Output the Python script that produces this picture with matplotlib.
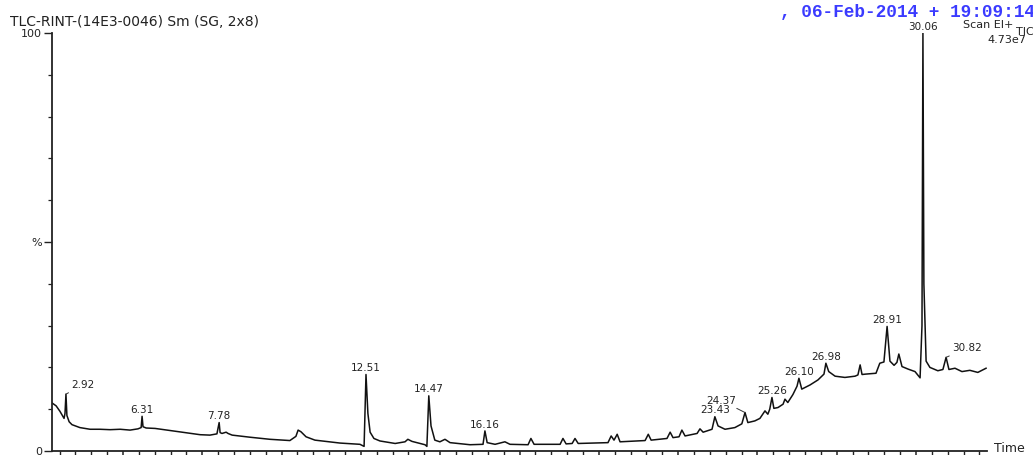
import matplotlib.pyplot as plt
from matplotlib.ticker import MultipleLocator, FixedLocator

# retention time (min) and relative abundance (%)
times = [2.76, 2.89, 3.01, 3.14, 3.17, 3.20, 3.23, 3.30, 3.39, 3.64, 3.96, 4.27, 4.59, 4.91,
         5.22, 5.47, 5.57, 5.60, 5.63, 5.73, 6.01, 6.48, 6.95, 7.43, 7.74, 7.96, 8.03, 8.06,
         8.12, 8.25, 8.31, 8.44, 9.00, 9.63, 10.26, 10.45, 10.52, 10.61, 10.77, 11.05, 11.84,
         12.47, 12.60, 12.66, 12.72, 12.79, 12.91, 13.10, 13.58, 13.89, 13.98, 14.11, 14.52,
         14.58, 14.64, 14.71, 14.83, 14.99, 15.15, 15.31, 15.94, 16.35, 16.41, 16.48, 16.73,
         17.04, 17.20, 17.77, 17.86, 17.96, 18.78, 18.87, 18.97, 19.16, 19.25, 19.35, 20.29,
         20.39, 20.48, 20.58, 20.67, 21.46, 21.56, 21.65, 22.15, 22.25, 22.34, 22.53, 22.62,
         22.72, 23.10, 23.19, 23.29, 23.57, 23.66, 23.76, 23.98, 24.29, 24.51, 24.61, 24.70,
         24.92, 25.08, 25.17, 25.24, 25.33, 25.39, 25.46, 25.52, 25.65, 25.81, 25.87, 25.96,
         26.12, 26.25, 26.31, 26.40, 26.66, 26.91, 27.10, 27.16, 27.25, 27.45, 27.76, 28.08,
         28.17, 28.24, 28.30, 28.42, 28.74, 28.86, 28.99, 29.09, 29.18, 29.31, 29.40, 29.46,
         29.56, 29.75, 29.97, 30.13, 30.19, 30.22, 30.25, 30.32, 30.44, 30.69, 30.85, 30.95,
         31.04, 31.23, 31.45, 31.70, 31.95, 32.21]
intensity = [11.5, 10.8, 9.5, 7.8, 9.0, 13.6, 8.5, 7.0, 6.3, 5.6, 5.2, 5.2, 5.1, 5.2,
             5.0, 5.3, 5.6, 8.3, 5.8, 5.5, 5.4, 4.9, 4.4, 3.9, 3.8, 4.1, 6.8, 4.4,
             4.2, 4.5, 4.2, 3.8, 3.3, 2.8, 2.5, 3.5, 5.0, 4.6, 3.4, 2.6, 1.9,
             1.6, 1.1, 18.3, 9.0, 4.5, 3.0, 2.4, 1.8, 2.2, 2.8, 2.3, 1.5,
             1.1, 13.2, 6.0, 2.6, 2.2, 2.8, 2.0, 1.5, 1.6, 4.8, 2.0, 1.6,
             2.2, 1.6, 1.5, 3.0, 1.6, 1.6, 3.0, 1.7, 1.8, 3.0, 1.8, 2.0,
             3.6, 2.6, 4.0, 2.2, 2.5, 4.0, 2.6, 3.0, 4.5, 3.2, 3.4, 5.0,
             3.6, 4.2, 5.3, 4.5, 5.2, 8.2, 6.0, 5.2, 5.6, 6.5, 9.2, 6.8,
             7.2, 7.8, 8.8, 9.6, 8.8, 10.0, 12.8, 10.2, 10.4, 11.2, 12.4, 11.6,
             13.5, 15.5, 17.4, 14.8, 15.8, 17.0, 18.4, 21.0, 19.0, 17.9, 17.6, 17.9,
             18.2, 20.6, 18.3, 18.4, 18.6, 21.0, 21.3, 29.8, 21.5, 20.5, 21.2, 23.2,
             20.2, 19.6, 19.0, 17.5, 30.0, 100.0, 40.0, 21.5, 20.0, 19.2, 19.5, 22.4,
             19.5, 19.8, 19.0, 19.3, 18.8, 19.8]

# labelled peaks: printed retention time, position and height of the peak top
peak_labels = ['2.92', '6.31', '7.78', '12.51', '14.47', '16.16', '23.43', '24.37',
               '25.26', '26.10', '26.98', '28.91', '30.06', '30.82']
peak_times = [3.20, 5.60, 8.03, 12.66, 14.64, 16.41, 23.66, 24.61,
              25.46, 26.31, 27.16, 29.09, 30.22, 30.95]
peak_heights = [13.6, 8.3, 6.8, 18.3, 13.2, 4.8, 8.2, 9.2,
                12.8, 17.4, 21.0, 29.8, 100.0, 22.4]

ytick_values = [0, 50, 100]
ytick_labels = ['0', '%', '100']

# label offsets in points (dx, dy); labels with a leader line are pushed sideways
offsets = {'2.92': (12, 3), '24.37': (-17, 5), '30.82': (15, 3)}

W, H = 1033, 455
fig = plt.figure(figsize=(W / 100, H / 100), dpi=100)
ax = fig.add_axes([52 / W, (H - 451) / H, 935 / W, 418 / H])

ax.plot(times, intensity, color='#111111', lw=1.1)

ax.set_xlim(2.76, 32.24)
ax.set_ylim(0, 100)
for s in ['top', 'right']:
    ax.spines[s].set_visible(False)
for s in ['left', 'bottom']:
    ax.spines[s].set_color('#222222')
    ax.spines[s].set_linewidth(1.3)

ax.xaxis.set_major_locator(MultipleLocator(2.5))
ax.xaxis.set_minor_locator(MultipleLocator(0.5))
ax.set_xticklabels([])
ax.tick_params(axis='x', which='major', length=5, width=1.1, color='#222222')
ax.tick_params(axis='x', which='minor', length=3, width=1.0, color='#222222')

ax.yaxis.set_major_locator(FixedLocator(ytick_values))
ax.yaxis.set_minor_locator(MultipleLocator(10))
ax.set_yticklabels(ytick_labels)
ax.tick_params(axis='y', which='major', length=6, width=1.0, color='#222222',
               labelsize=8, labelcolor='#222222', pad=1)
ax.tick_params(axis='y', which='minor', length=3, width=0.9, color='#222222')

for lab, t, h in zip(peak_labels, peak_times, peak_heights):
    if lab in offsets:
        dx, dy = offsets[lab]
        ax.annotate(lab, xy=(t, h), xytext=(dx, dy), textcoords='offset points',
                    ha='center', va='bottom', fontsize=7.5, color='#222222',
                    annotation_clip=False,
                    arrowprops=dict(arrowstyle='-', color='#333333', lw=0.7,
                                    shrinkA=0, shrinkB=0))
    else:
        ax.annotate(lab, xy=(t, h), xytext=(0, 1), textcoords='offset points',
                    ha='center', va='bottom', fontsize=7.5, color='#222222',
                    annotation_clip=False)

fig.text(10 / W, 1 - 22 / H, 'TLC-RINT-(14E3-0046) Sm (SG, 2x8)', fontsize=10,
         color='#222222', ha='left', va='center')
fig.text(780 / W, 1 - 12 / H, ', 06-Feb-2014 + 19:09:14', fontsize=12.8,
         family='Liberation Mono', weight='bold', color='#3b3bff', ha='left', va='center')
fig.text(963 / W, 1 - 25 / H, 'Scan EI+', fontsize=8, color='#222222',
         ha='left', va='center')
fig.text(1016 / W, 1 - 32 / H, 'TIC', fontsize=8, color='#222222', ha='left', va='center')
fig.text(987 / W, 1 - 40 / H, '4.73e7', fontsize=8, color='#222222', ha='left', va='center')
fig.text(994 / W, 1 - 449 / H, 'Time', fontsize=9, color='#222222', ha='left', va='center')

fig.savefig('out.png', dpi=100)
